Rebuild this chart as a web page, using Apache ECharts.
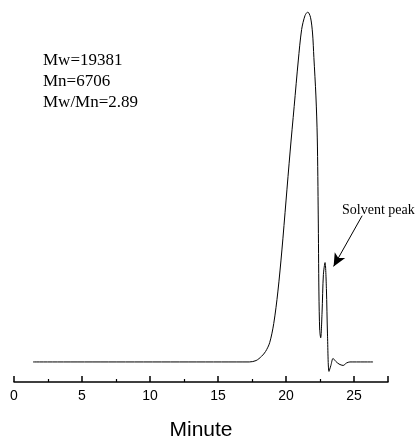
<!DOCTYPE html>
<html>
<head>
<meta charset="utf-8">
<script src="https://cdn.jsdelivr.net/npm/echarts@6/dist/echarts.min.js"></script>
<style>
html, body { margin: 0; padding: 0; background: #fff; }
#main { width: 419px; height: 446px; }
</style>
</head>
<body>
<div id="main"></div>
<script>
// retention time (minute) and detector signal
var minutes = [1.4, 17.3, 17.8, 18.2, 18.5, 18.8, 19.1, 19.4, 19.7, 20.0, 20.3, 20.6, 20.9, 21.15, 21.4, 21.6,
    21.8, 21.95, 22.05, 22.2, 22.3, 22.37, 22.42, 22.48, 22.55, 22.65, 22.75, 22.87, 22.97, 23.05, 23.16,
    23.3, 23.46, 23.65, 23.9, 24.2, 24.45, 24.7, 26.4];
var signal = [0, 0, 0.4, 1.6, 3, 5.5, 11, 20, 32, 46, 60, 73, 86, 95, 99, 100,
    98.5, 94, 87, 76, 64, 42, 20, 9, 6.9, 14, 25, 28.4, 21, 8, -2.7,
    -1, 1, 0.2, -0.6, -1, -0.3, 0, 0];
var xTicks = [0, 5, 10, 15, 20, 25];
var statsLines = ['Mw=19381', 'Mn=6706', 'Mw/Mn=2.89'];

var myChart = echarts.init(document.getElementById('main'));

var points = [];
for (var i = 0; i < minutes.length; i++) {
    points.push([minutes[i], signal[i]]);
}

myChart.setOption({
    animation : false,
    grid : {
	left : 14,
	right : 31,
	top : 12,
	bottom : 56
    },
    xAxis : {
	type : 'value',
	min : 0,
	max : 27.5,
	interval : 5,
	name : 'Minute',
	nameLocation : 'middle',
	nameGap : 38,
	nameTextStyle : {
	    fontFamily : 'Liberation Sans',
	    fontSize : 21,
	    color : '#000'
	},
	splitLine : { show : false },
	axisLine : {
	    onZero : false,
	    lineStyle : { color : '#000', width : 1.5 }
	},
	axisTick : {
	    inside : true,
	    length : 6,
	    lineStyle : { color : '#000', width : 1.5 }
	},
	minorTick : {
	    show : true,
	    splitNumber : 2,
	    length : 3,
	    lineStyle : { color : '#000', width : 1.2 }
	},
	axisLabel : {
	    margin : 7,
	    fontFamily : 'Liberation Sans',
	    fontSize : 14,
	    color : '#000',
	    formatter : function(v) {
		return xTicks.indexOf(v) >= 0 ? String(v) : '';
	    }
	}
    },
    yAxis : {
	type : 'value',
	min : -5.73,
	max : 100,
	show : false
    },
    series : [ {
	type : 'line',
	data : points,
	showSymbol : false,
	smooth : 0.3,
	lineStyle : { color : '#000', width : 1 },
	markLine : {
	    silent : true,
	    symbol : [ 'none', 'arrow' ],
	    symbolSize : [ 9, 13 ],
	    label : { show : false },
	    lineStyle : { color : '#000', width : 1, type : 'solid' },
	    data : [ [ { coord : [ 25.6, 41.8 ] }, { coord : [ 23.5, 27.3 ] } ] ]
	}
    } ],
    graphic : [ {
	type : 'text',
	left : 43,
	top : 50,
	style : {
	    text : statsLines.join('\n'),
	    fontFamily : 'Liberation Serif',
	    fontSize : 17,
	    lineHeight : 21,
	    fill : '#000'
	}
    }, {
	type : 'text',
	left : 342,
	top : 203,
	style : {
	    text : 'Solvent peak',
	    fontFamily : 'Liberation Serif',
	    fontSize : 14,
	    fill : '#000'
	}
    } ]
});
</script>
</body>
</html>
